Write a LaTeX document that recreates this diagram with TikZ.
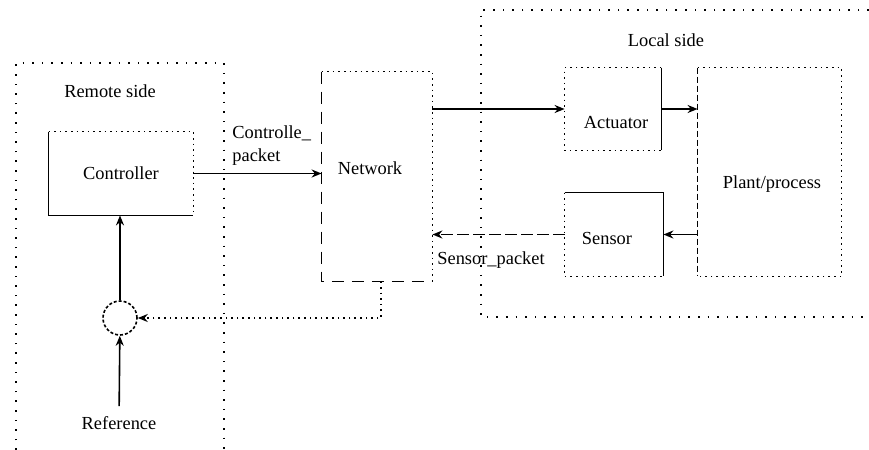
\documentclass[tikz,border=0pt]{standalone}
\usepackage{fontspec}
\setmainfont{Liberation Serif}
\usetikzlibrary{arrows.meta, positioning}

\tikzset{
  box/.style={inner sep=0pt},
  txt/.style={inner sep=0pt},
  solidedge/.style={line width=0.8pt},
  dotedge/.style={line width=0.8pt, dotted},
  dashedge/.style={line width=0.8pt, dash pattern=on 6pt off 4pt},
  region/.style={line width=0.8pt, dash pattern=on 0.8pt off 4pt},
  flow/.style={->, line width=0.8pt}
}

\begin{document}
\begin{tikzpicture}[x=0.5pt, y=-0.5pt, >={Stealth[length=5pt, width=4pt]},
    font=\fontsize{9.2}{11}\selectfont]
  \useasboundingbox (0,0) rectangle (869,450);

  % Regions
  \draw[region] (16,450) -- (16,63) -- (224,63) -- (224,450);
  \draw[region] (869,10) -- (481,10) -- (481,317) -- (869,317);
  \node[txt] (remote) at (110,91) {Remote side};
  \node[txt] (local) at (666,40) {Local side};

  % Controller
  \node[box, minimum width=72pt, minimum height=41.5pt] (ctrl) at (121,173.5) {Controller};
  \draw[solidedge] (ctrl.north west) -- (ctrl.south west) -- (ctrl.south east);
  \draw[dotedge] (ctrl.north west) -- (ctrl.north east) -- (ctrl.south east);

  % Network
  \node[box, minimum width=55pt, minimum height=104.5pt] (net) at (377,176.5) {};
  \node[txt] (netlbl) at (370,168) {Network};
  \draw[dashedge] (net.north west) -- (net.south west) -- (net.south east);
  \draw[dotedge] (net.north west) -- (net.north east) -- (net.south east);

  % Actuator
  \node[box, minimum width=48pt, minimum height=41pt] (act) at (613,109) {};
  \node[txt] (actlbl) at (616,123) {Actuator};
  \draw[dotedge] (act.north east) -- (act.north west) -- (act.south west) -- (act.south east);
  \draw[solidedge] (act.north east) -- (act.south east);

  % Plant
  \node[box, minimum width=71.5pt, minimum height=104pt] (plant) at (769.5,172) {};
  \node[txt] (plantlbl) at (772,184) {Plant/process};
  \draw[dashedge, dash pattern=on 3pt off 1.5pt] (plant.north west) -- (plant.south west);
  \draw[dotedge] (plant.north west) -- (plant.north east) -- (plant.south east) -- (plant.south west);

  % Sensor
  \node[box, minimum width=49pt, minimum height=41.5pt] (sensor) at (614,234.5) {};
  \node[txt] (senslbl) at (607,238) {Sensor};
  \draw[solidedge] (sensor.north west) -- (sensor.north east) -- (sensor.south east);
  \draw[dotedge] (sensor.north west) -- (sensor.south west) -- (sensor.south east);

  % Summing point and reference
  \node[circle, minimum size=17pt, draw, line width=0.8pt, dash pattern=on 1.5pt off 1pt] (sum) at (120,318) {};
  \node[txt] (ref) at (119,423) {Reference};

  % Packet labels
  \node[txt, anchor=west] (ctrlpkt) at (232,133) {Controlle\_};
  \node[txt, anchor=west] (ctrlpkt2) at (232,157) {packet};
  \node[txt] (senspkt) at (491,260) {Sensor\_packet};

  % Signal flow
  \draw[flow] (ctrl.east) -- (ctrl.east -| net.west);
  \draw[flow] (act.west -| net.east) -- (act.west);
  \draw[flow] (act.east) -- (act.east -| plant.west);
  \draw[flow] (sensor.east -| plant.west) -- (sensor.east);
  \draw[flow, dash pattern=on 6pt off 2pt] (sensor.west) -- (sensor.west -| net.east);
  \draw[flow, dotted] ([xshift=2pt]net.south) |- (sum.east);
  \draw[flow] (sum.north) -- (sum.north |- ctrl.south);
  \draw[flow, shorten <=5pt] (ref) -- (sum);
\end{tikzpicture}
\end{document}
